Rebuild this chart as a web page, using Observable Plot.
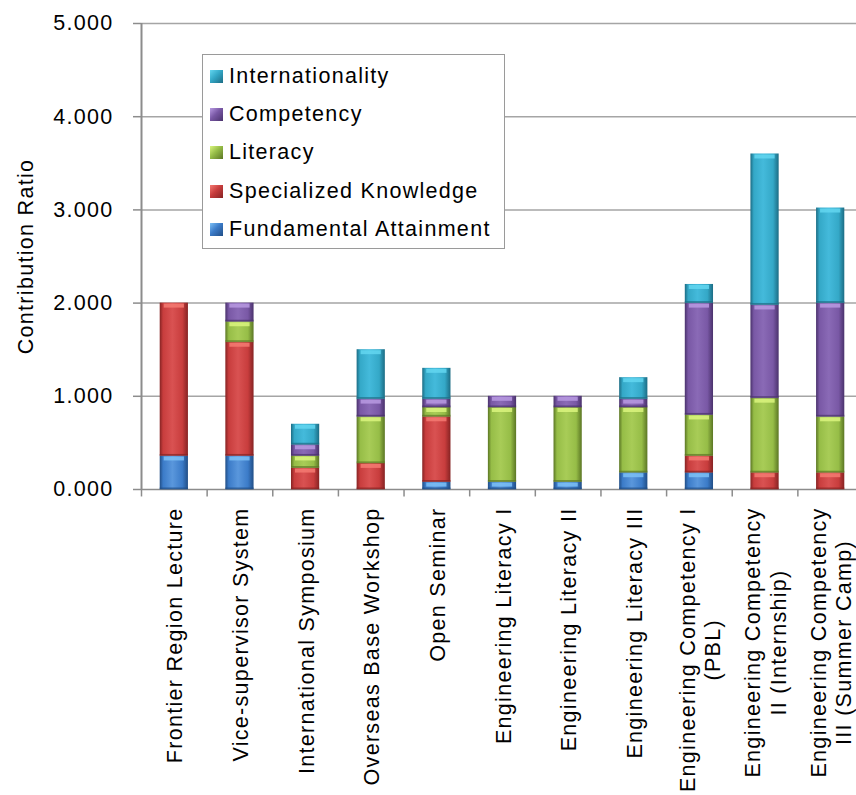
<!DOCTYPE html>
<html>
<head>
<meta charset="utf-8">
<script src="https://cdn.jsdelivr.net/npm/d3@7"></script>
<script src="https://cdn.jsdelivr.net/npm/@observablehq/plot@0.6"></script>
<style>
  html, body { margin: 0; padding: 0; background: #fff; overflow: hidden; }
  #chart { position: relative; width: 856px; height: 795px; }
  .legend {
    position: absolute; left: 202px; top: 54px; width: 303px; height: 195px;
    box-sizing: border-box; border: 1px solid #9a9a9a; background: #fff;
    font-family: "Liberation Sans", Arial, sans-serif; font-size: 21.5px; letter-spacing: 1.3px;
    color: #000; padding-top: 2px;
  }
  .legend .row { display: flex; align-items: center; height: 38.3px; padding-left: 7px; white-space: nowrap; }
  .legend .sw { width: 13px; height: 13px; margin-right: 6px; box-sizing: border-box; }
</style>
</head>
<body>
<div id="chart"></div>
<script>
// Activities along the x axis
const categories = [
  "Frontier Region Lecture",
  "Vice-supervisor System",
  "International Symposium",
  "Overseas Base Workshop",
  "Open Seminar",
  "Engineering Literacy I",
  "Engineering Literacy II",
  "Engineering Literacy III",
  "Engineering Competency I\n(PBL)",
  "Engineering Competency\nII (Internship)",
  "Engineering Competency\nIII (Summer Camp)"
];

// Contribution ratio of each activity, one array per attainment target
const fundamental      = [0.36, 0.36, 0.00, 0.00, 0.08, 0.08, 0.08, 0.18, 0.18, 0.00, 0.00];
const specialized      = [1.64, 1.22, 0.23, 0.28, 0.70, 0.00, 0.00, 0.00, 0.18, 0.18, 0.18];
const literacy         = [0.00, 0.22, 0.13, 0.50, 0.10, 0.80, 0.80, 0.70, 0.44, 0.80, 0.60];
const competency       = [0.00, 0.20, 0.12, 0.19, 0.09, 0.12, 0.12, 0.09, 1.20, 1.00, 1.22];
const internationality = [0.00, 0.00, 0.22, 0.53, 0.33, 0.00, 0.00, 0.23, 0.20, 1.62, 1.02];

const yTicks = [0, 1, 2, 3, 4, 5];

// Stack order, bottom to top
const seriesList = [
  {key: "fa",  name: "Fundamental Attainment", values: fundamental,      base: "#3b7bc8", dark: "#214e86", light: "#5a97dc", hi: "#7cc0f6"},
  {key: "sk",  name: "Specialized Knowledge",  values: specialized,      base: "#c83d3d", dark: "#862323", light: "#d95252", hi: "#f47a72"},
  {key: "lit", name: "Literacy",               values: literacy,         base: "#96bd47", dark: "#5b7624", light: "#a8cc57", hi: "#daf57e"},
  {key: "cmp", name: "Competency",             values: competency,       base: "#7958a5", dark: "#4a326c", light: "#8a6ab6", hi: "#b89ae2"},
  {key: "int", name: "Internationality",       values: internationality, base: "#34a8c7", dark: "#1c6c84", light: "#44badb", hi: "#63d6f0"}
];

const rows = [];
categories.forEach((c, i) => {
  seriesList.forEach(s => rows.push({category: c, key: s.key, value: s.values[i]}));
});
const byKey = Object.fromEntries(seriesList.map(s => [s.key, s]));

// Text metrics for the rotated category labels
const FONT = "21.5px 'Liberation Sans', Arial, sans-serif";
const LETTER = 1.3;
const ctx = document.createElement("canvas").getContext("2d");
ctx.font = FONT;
function labelWidth(label) {
  return d3.max(label.split("\n"), line => ctx.measureText(line).width + LETTER * line.length);
}

const left = 141, right = 863;
const step = (right - left) / categories.length;

const labelMarks = categories.map(c =>
  Plot.text([c], {
    x: d => d, frameAnchor: "bottom", rotate: -90,
    textAnchor: "middle", lineAnchor: "middle", lineHeight: 1.18,
    fill: "#000", dy: 18 + labelWidth(c) / 2
  })
);

const svg = Plot.plot({
  width: 856,
  height: 795,
  marginLeft: left,
  marginRight: 0,
  marginTop: 23,
  marginBottom: 306,
  style: {fontFamily: "'Liberation Sans', Arial, sans-serif", fontSize: "21.5px", letterSpacing: "1.3px", background: "#fff", color: "#000"},
  x: {domain: categories, range: [left, right], paddingInner: 0.57, paddingOuter: 0.285, round: false, axis: null},
  y: {domain: [0, 5], axis: null},
  marks: [
    Plot.gridY(yTicks.slice(1), {stroke: "#a5a5a5", strokeOpacity: 1, strokeWidth: 1.5}),
    Plot.axisY(yTicks, {
      tickFormat: d3.format(".3f"), tickSize: 8, tickPadding: 20,
      stroke: "#8c8c8c", strokeWidth: 1.5, fill: "#000",
      label: "Contribution Ratio", labelAnchor: "center", labelArrow: "none", labelOffset: 124
    }),
    Plot.ruleY([0], {stroke: "#8c8c8c", strokeWidth: 1.5}),
    Plot.ruleX(categories, {x: d => d, y1: 0, y2: -0.08, dx: -step / 2, stroke: "#8c8c8c", strokeWidth: 1.5}),
    Plot.barY(rows, {
      x: "category", y: "value",
      fill: {value: d => `url(#grad-${d.key})`, scale: null}
    }),
    Plot.tickY(rows, Plot.stackY2({
      x: "category", y: "value", filter: d => d.value > 0.04,
      stroke: {value: d => byKey[d.key].hi, scale: null},
      strokeWidth: 4, dy: 2.5, insetLeft: 4, insetRight: 4, strokeOpacity: 0.85
    })),
    Plot.tickY(rows, Plot.stackY1({
      x: "category", y: "value", filter: d => d.value > 0.04,
      stroke: {value: d => byKey[d.key].dark, scale: null},
      strokeWidth: 2, dy: -1, strokeOpacity: 0.7
    })),
    Plot.ruleX([categories[0]], {x: d => d, dx: -step / 2, y1: 0, y2: 5, stroke: "#8c8c8c", strokeWidth: 2}),
    ...labelMarks
  ]
});

// Horizontal shading gradients that give the bars their bevelled look
const NS = "http://www.w3.org/2000/svg";
const defs = document.createElementNS(NS, "defs");
seriesList.forEach(s => {
  const g = document.createElementNS(NS, "linearGradient");
  g.setAttribute("id", `grad-${s.key}`);
  g.setAttribute("x1", "0"); g.setAttribute("x2", "1");
  g.setAttribute("y1", "0"); g.setAttribute("y2", "0");
  [[0, s.dark], [0.12, s.base], [0.45, s.light], [0.8, s.base], [1, s.dark]].forEach(([o, c]) => {
    const st = document.createElementNS(NS, "stop");
    st.setAttribute("offset", o);
    st.setAttribute("stop-color", c);
    g.appendChild(st);
  });
  defs.appendChild(g);
});
svg.insertBefore(defs, svg.firstChild);

const chart = document.getElementById("chart");
chart.appendChild(svg);

// Legend box, listed top to bottom in reverse stack order
const legend = document.createElement("div");
legend.className = "legend";
seriesList.slice().reverse().forEach(s => {
  const row = document.createElement("div");
  row.className = "row";
  const sw = document.createElement("span");
  sw.className = "sw";
  sw.style.background = `linear-gradient(135deg, ${s.hi} 0%, ${s.base} 45%, ${s.dark} 100%)`;
  const label = document.createElement("span");
  label.textContent = s.name;
  row.appendChild(sw);
  row.appendChild(label);
  legend.appendChild(row);
});
chart.appendChild(legend);
</script>
</body>
</html>
